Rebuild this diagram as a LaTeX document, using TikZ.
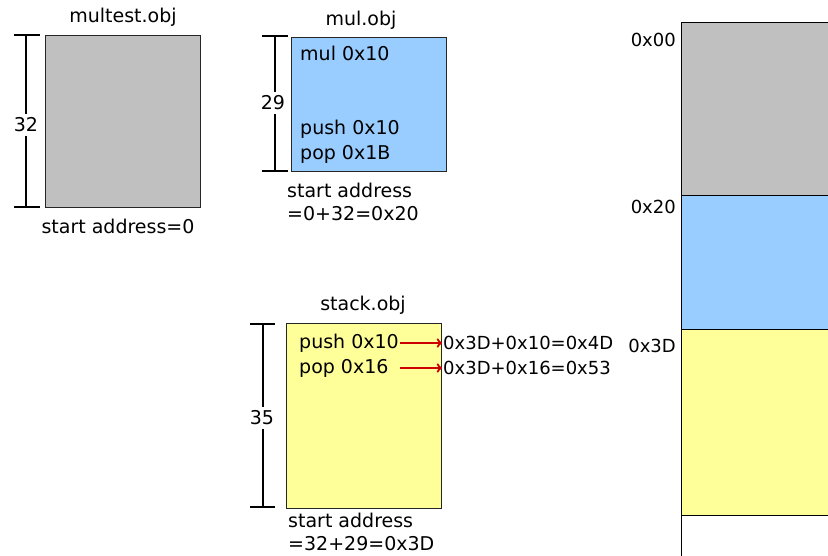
\documentclass[tikz,border=0pt]{standalone}
\usepackage{fontspec}
\setmainfont{DejaVu Sans}
\usetikzlibrary{positioning}
\definecolor{objgray}{HTML}{C0C0C0}
\definecolor{objblue}{HTML}{99CCFF}
\definecolor{objyellow}{HTML}{FFFF99}
\definecolor{relocred}{HTML}{CC0000}

\begin{document}
\begin{tikzpicture}[x=1pt,y=-1pt,
    every node/.style={font=\fontsize{19}{22}\selectfont,inner sep=1pt},
    objbox/.style={draw=black!85,line width=0.9pt,anchor=north west,minimum width=155pt,inner sep=0pt},
    sizebar/.style={line width=1.8pt},
    codeline/.style={anchor=west},
    addrlabel/.style={anchor=east,font=\fontsize{18}{21}\selectfont},
    reloc/.style={->,relocred,line width=2.2pt}]
  \useasboundingbox (0,0) rectangle (828,556);

  % object files
  \node[objbox,fill=objgray,minimum height=172pt] (multest) at (45,35) {};
  \node (multestname) at (123,17) {multest.obj};
  \node (multeststart) at (118,226) {start address=0};
  \draw[sizebar] (14,35) -- (40,35);
  \draw[sizebar] (14,207) -- (40,207);
  \draw[sizebar] (26,35) -- (26,207);
  \node[fill=white,inner ysep=4pt] (multestsize) at (26,125) {32};

  \node[objbox,fill=objblue,minimum height=134pt] (mul) at (291,37) {};
  \node (mulname) at (361,20) {mul.obj};
  \node[codeline] (mulcall) at (299,53) {mul 0x10};
  \node[codeline] (mulpush) at (299,129) {push 0x10};
  \node[codeline] (mulpop) at (299,154) {pop 0x1B};
  \node[codeline] (mulstart) at (286,190) {start address};
  \node[codeline] (mulstartval) at (286,214) {=0+32=0x20};
  \draw[sizebar] (262,36) -- (288,36);
  \draw[sizebar] (262,171) -- (288,171);
  \draw[sizebar] (275,36) -- (275,171);
  \node[fill=white,inner ysep=4pt] (mulsize) at (273,103) {29};

  \node[objbox,fill=objyellow,minimum height=185pt] (stack) at (286,323) {};
  \node (stackname) at (363,305) {stack.obj};
  \node[codeline] (stackpush) at (298,343) {push 0x10};
  \node[codeline] (stackpop) at (298,368) {pop 0x16};
  \node[codeline] (stackstart) at (287,520) {start address};
  \node[codeline] (stackstartval) at (287,544) {=32+29=0x3D};
  \draw[sizebar] (250,324) -- (275,324);
  \draw[sizebar] (250,507) -- (275,507);
  \draw[sizebar] (263,324) -- (263,507);
  \node[fill=white,inner ysep=4pt] (stacksize) at (262,418) {35};

  % relocated addresses
  \node[codeline,font=\fontsize{18}{21}\selectfont] (pushaddr) at (442,343) {0x3D+0x10=0x4D};
  \node[codeline,font=\fontsize{18}{21}\selectfont] (popaddr) at (442,368) {0x3D+0x16=0x53};
  \draw[reloc] (stackpush) -- (pushaddr);
  \draw[reloc] (stackpush.east |- stackpop.east) -- (popaddr);

  % linked image
  \begin{scope}
    \clip (0,0) rectangle (828,556);
    \draw[line width=0.9pt,fill=objgray] (681,22) rectangle (840,195);
    \draw[line width=0.9pt,fill=objblue] (681,195) rectangle (840,329);
    \draw[line width=0.9pt,fill=objyellow] (681,329) rectangle (840,515);
    \draw[line width=0.9pt] (681,515) -- (681,560);
  \end{scope}
  \node[addrlabel] (addr00) at (677,40) {0x00};
  \node[addrlabel] (addr20) at (677,207) {0x20};
  \node[addrlabel] (addr3d) at (677,346) {0x3D};
\end{tikzpicture}
\end{document}
